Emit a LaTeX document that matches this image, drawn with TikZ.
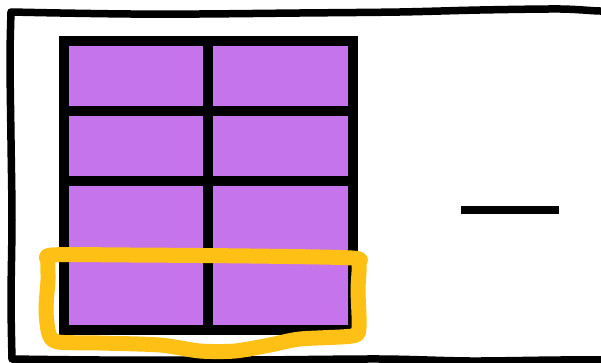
\documentclass[tikz,border=0pt]{standalone}
\definecolor{cellpurple}{RGB}{197,116,235}
\definecolor{markyellow}{RGB}{255,192,22}
\tikzset{
  cellbox/.style={rectangle, fill=cellpurple, draw=black, line width=10pt, inner sep=0pt, outer sep=0pt},
  sketchline/.style={draw=black, line width=7.5pt, line cap=round, line join=round},
  highlight/.style={draw=markyellow, line width=15pt, line cap=round, line join=round},
}
\begin{document}
\begin{tikzpicture}[x=1pt,y=-1pt]
\useasboundingbox (0,0) rectangle (601,363);
\clip (0,0) rectangle (601,363);
% hand-drawn frame (right edge lies outside the picture)
\draw[sketchline] plot[smooth, tension=0.5] coordinates {(640,11) (600,11) (560,9) (480,10) (400,12) (300,13) (200,14) (130,14) (60,13) (11,12)}
  -- plot[smooth, tension=0.5] coordinates {(11,12) (10,60) (11,140) (12,220) (11,300) (12,359)}
  -- plot[smooth, tension=0.5] coordinates {(12,359) (100,360) (250,360) (380,359) (470,361) (560,360) (640,360)};
% grid cells
\node[cellbox, minimum width=144pt, minimum height=70pt]  (c11) at (136,75.7) {};
\node[cellbox, minimum width=145pt, minimum height=70pt]  (c12) at (280.5,75.7) {};
\node[cellbox, minimum width=144pt, minimum height=70pt]  (c21) at (136,145.7) {};
\node[cellbox, minimum width=145pt, minimum height=70pt]  (c22) at (280.5,145.7) {};
\node[cellbox, minimum width=144pt, minimum height=74pt]  (c31) at (136,217.7) {};
\node[cellbox, minimum width=145pt, minimum height=74pt]  (c32) at (280.5,217.7) {};
\node[cellbox, minimum width=144pt, minimum height=75pt]  (c41) at (136,292.2) {};
\node[cellbox, minimum width=145pt, minimum height=75pt]  (c42) at (280.5,292.2) {};
% yellow highlight around the bottom row
\draw[highlight] plot[smooth cycle, tension=0.45] coordinates {
  (52,255) (130,255) (250,256) (352,258) (359,264) (358,290) (359,328) (352,336)
  (300,339) (270,345) (235,351) (200,351) (160,345) (100,343) (58,342) (49,334)
  (46,310) (48,280) (48,262)};
% dash on the right
\coordinate (d1) at (461,210);
\coordinate (d2) at (559,210);
\draw[black, line width=8pt] (d1) -- (d2);
\end{tikzpicture}
\end{document}
